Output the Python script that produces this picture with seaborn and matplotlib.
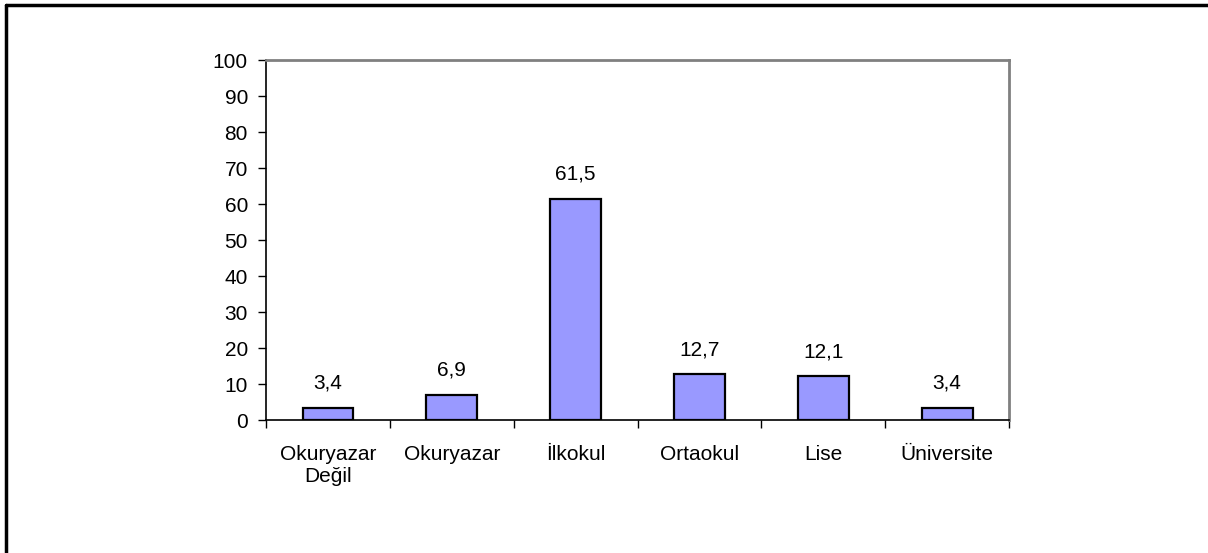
import numpy as np
import seaborn as sns
import matplotlib.pyplot as plt
from matplotlib.lines import Line2D

sns.set_style("white")
plt.rcParams['font.family'] = ['Liberation Sans', 'DejaVu Sans']
plt.rcParams['text.color'] = 'black'
plt.rcParams['xtick.color'] = 'black'
plt.rcParams['ytick.color'] = 'black'

# Data
categories = ['Okuryazar\nDeğil', 'Okuryazar', 'İlkokul', 'Ortaokul', 'Lise', 'Üniversite']
values = [3.4, 6.9, 61.5, 12.7, 12.1, 3.4]
value_labels = ['3,4', '6,9', '61,5', '12,7', '12,1', '3,4']

fig = plt.figure(figsize=(12.08, 5.53), dpi=100)
ax = fig.add_axes([0.2202, 0.2405, 0.6151, 0.651])

sns.barplot(x=categories, y=values, color='#9999FF', edgecolor='black',
            linewidth=1.6, width=0.41, saturation=1, ax=ax)

ax.set_ylim(0, 100)
ax.set_xlim(-0.5, len(categories) - 0.5)
ax.set_yticks(np.arange(0, 101, 10))
ax.tick_params(axis='y', direction='out', length=6, width=1,
               labelsize=15, pad=7, left=True)
# category labels at centres, tick marks at the boundaries
ax.tick_params(axis='x', which='major', length=0, labelsize=15, pad=18)
ax.set_xticks(np.arange(-0.5, len(categories), 1), minor=True)
ax.tick_params(axis='x', which='minor', direction='out', length=6, width=1,
               bottom=True)

for side in ['left', 'bottom']:
    ax.spines[side].set_color('black')
    ax.spines[side].set_linewidth(1.2)
for side in ['top', 'right']:
    ax.spines[side].set_color('#808080')
    ax.spines[side].set_linewidth(2)

for i, (v, lab) in enumerate(zip(values, value_labels)):
    ax.annotate(lab, (i, v), xytext=(0, 11), textcoords='offset points',
                ha='center', va='bottom', fontsize=15)

ax.set_xlabel('')
ax.set_ylabel('')

# outer frame (left and top edges visible)
fig.add_artist(Line2D([6 / 1208, 6 / 1208], [0, 1 - 5 / 553], color='black',
                      lw=2.5, transform=fig.transFigure))
fig.add_artist(Line2D([6 / 1208, 1], [1 - 5 / 553, 1 - 5 / 553], color='black',
                      lw=2.5, transform=fig.transFigure))

fig.savefig('out.png', dpi=100)
